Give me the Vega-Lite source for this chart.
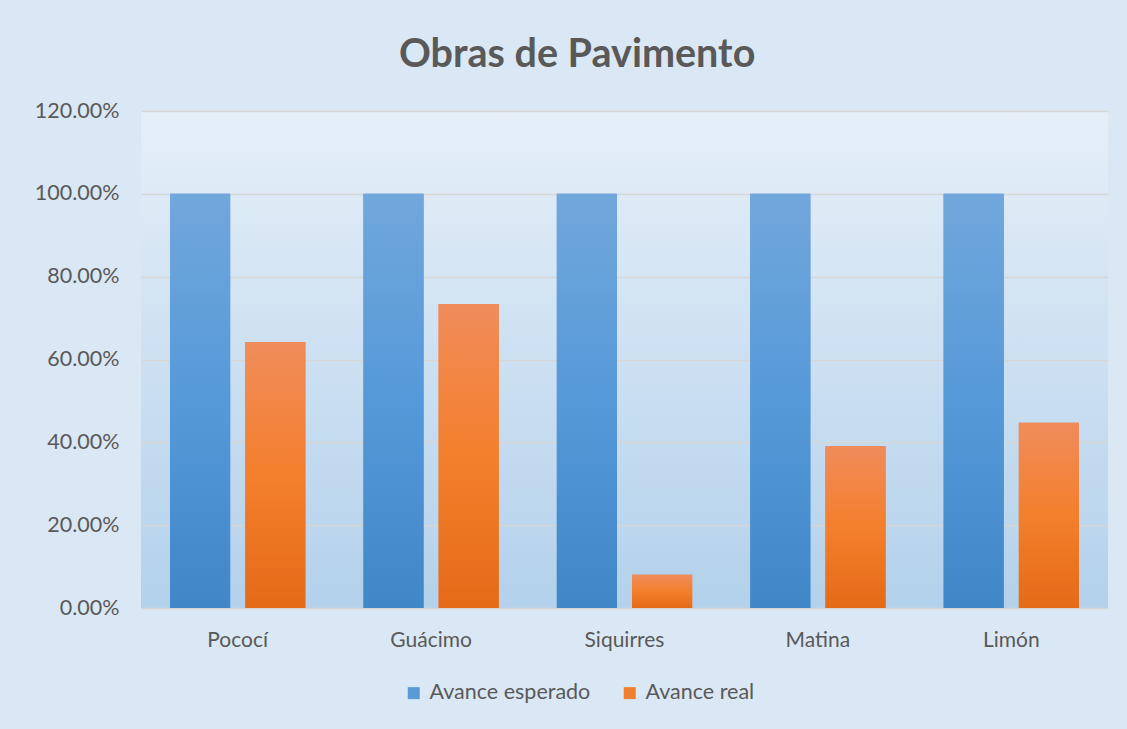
{
  "$schema": "https://vega.github.io/schema/vega-lite/v6.json",
  "autosize": {"type": "none"},
  "width": 967,
  "height": 497,
  "padding": {"left": 141, "top": 111, "right": 19, "bottom": 121},
  "background": "#dae8f5",
  "title": {
    "text": "Obras de Pavimento",
    "font": "Lato",
    "fontSize": 39.5,
    "fontWeight": "bold",
    "color": "#595959",
    "anchor": "middle",
    "frame": "bounds",
    "baseline": "alphabetic",
    "offset": -6,
    "dx": 6
  },
  "data": {
    "values": [
      {"canton": "Pococí", "serie": "Avance esperado", "valor": 1.0},
      {"canton": "Pococí", "serie": "Avance real", "valor": 0.642},
      {"canton": "Guácimo", "serie": "Avance esperado", "valor": 1.0},
      {"canton": "Guácimo", "serie": "Avance real", "valor": 0.734},
      {"canton": "Siquirres", "serie": "Avance esperado", "valor": 1.0},
      {"canton": "Siquirres", "serie": "Avance real", "valor": 0.08},
      {"canton": "Matina", "serie": "Avance esperado", "valor": 1.0},
      {"canton": "Matina", "serie": "Avance real", "valor": 0.391},
      {"canton": "Limón", "serie": "Avance esperado", "valor": 1.0},
      {"canton": "Limón", "serie": "Avance real", "valor": 0.447}
    ]
  },
  "encoding": {
    "x": {
      "field": "canton",
      "type": "nominal",
      "sort": null,
      "scale": {"paddingInner": 0.3, "paddingOuter": 0.15},
      "axis": {
        "title": null,
        "labelAngle": 0,
        "labelFont": "Lato",
        "labelFontSize": 21,
        "labelColor": "#595959",
        "labelPadding": 21,
        "ticks": false,
        "domain": false
      }
    },
    "xOffset": {
      "field": "serie",
      "type": "nominal",
      "sort": ["Avance esperado", "Avance real"],
      "scale": {"domain": ["Avance esperado", "Avance real"], "paddingInner": 0.2, "paddingOuter": 0}
    },
    "y": {
      "field": "valor",
      "type": "quantitative",
      "scale": {"domain": [0, 1.2], "nice": false},
      "axis": {
        "title": null,
        "format": ".2%",
        "values": [0, 0.2, 0.4, 0.6, 0.8, 1.0, 1.2],
        "labelFont": "Lato",
        "labelFontSize": 21.5,
        "labelColor": "#595959",
        "labelPadding": 22,
        "ticks": false,
        "domain": false,
        "grid": true,
        "gridColor": "#d6d6d6",
        "gridWidth": 1.5
      }
    }
  },
  "layer": [
    {
      "mark": {"type": "bar"},
      "encoding": {
        "color": {
          "field": "serie",
          "type": "nominal",
          "scale": {
            "domain": ["Avance esperado", "Avance real"],
            "range": ["#5b9bd5", "#f07f30"]
          },
          "legend": {
            "title": null,
            "orient": "none",
            "legendX": 262,
            "legendY": 571,
            "direction": "horizontal",
            "symbolType": "square",
            "symbolSize": 144,
            "symbolStrokeWidth": 0,
            "labelOffset": 5,
            "labelLimit": 400,
            "labelFont": "Lato",
            "labelFontSize": 21.5,
            "labelColor": "#595959",
            "columnPadding": 28
          }
        }
      }
    },
    {
      "transform": [{"filter": "datum.serie === 'Avance esperado'"}],
      "mark": {
        "type": "bar",
        "color": {"gradient": "linear", "x1": 0, "y1": 0, "x2": 0, "y2": 1, "stops": [{"offset": 0, "color": "#71a7dc"}, {"offset": 0.5, "color": "#5599d8"}, {"offset": 1, "color": "#4087c8"}]}
      }
    },
    {
      "transform": [{"filter": "datum.serie === 'Avance real'"}],
      "mark": {
        "type": "bar",
        "color": {"gradient": "linear", "x1": 0, "y1": 0, "x2": 0, "y2": 1, "stops": [{"offset": 0, "color": "#f08c5b"}, {"offset": 0.5, "color": "#f47f2c"}, {"offset": 1, "color": "#e46a18"}]}
      }
    }
  ],
  "config": {
    "view": {
      "stroke": null,
      "fill": {"gradient": "linear", "x1": 0, "y1": 0, "x2": 0, "y2": 1, "stops": [{"offset": 0, "color": "#e6eff8"}, {"offset": 1, "color": "#b3d1eb"}]}
    }
  }
}
